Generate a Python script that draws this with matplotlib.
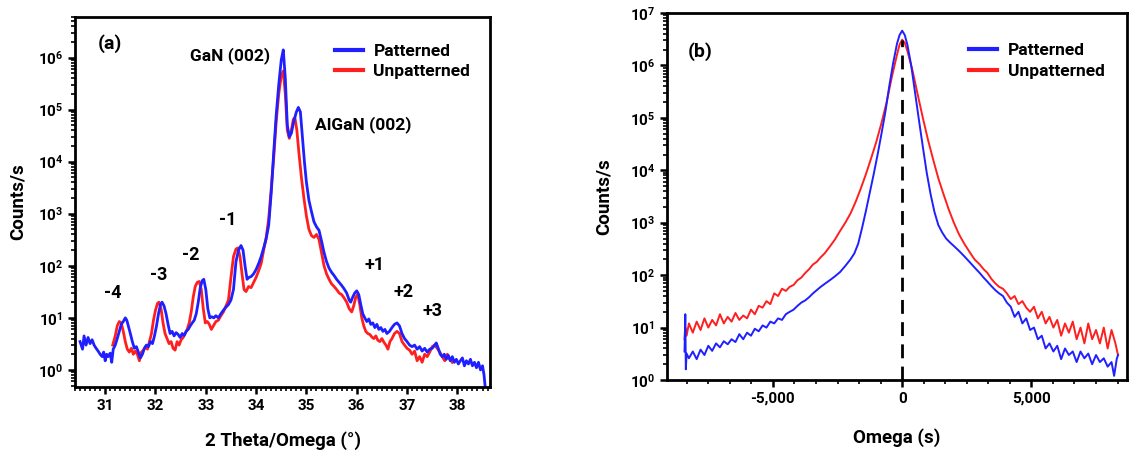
import numpy as np
import matplotlib
matplotlib.use('Agg')
import matplotlib.pyplot as plt
from matplotlib.ticker import FixedLocator, FuncFormatter, LogLocator, MultipleLocator, NullFormatter

plt.rcParams['font.family'] = ['Roboto', 'DejaVu Sans']
plt.rcParams['font.weight'] = 'bold'
plt.rcParams['mathtext.fontset'] = 'custom'
plt.rcParams['mathtext.rm'] = 'Roboto:bold'
plt.rcParams['mathtext.bf'] = 'Roboto:bold'

# ── (a) 2Theta/Omega scan ────────────────────────────────────────────────
a_pat_x = [30.50, 30.55, 30.58, 30.62, 30.66, 30.70, 30.74, 30.78, 30.82, 30.86,
           30.90, 30.94, 30.97, 31.00, 31.03, 31.06, 31.10, 31.13, 31.16, 31.20,
           31.24, 31.28, 31.32, 31.36, 31.40, 31.43, 31.46, 31.50, 31.54, 31.58,
           31.62, 31.66, 31.70, 31.74, 31.78, 31.82, 31.86, 31.90, 31.94, 31.98,
           32.02, 32.06, 32.10, 32.13, 32.17, 32.21, 32.25, 32.29, 32.33, 32.37,
           32.41, 32.45, 32.49, 32.53, 32.57, 32.61, 32.65, 32.69, 32.73, 32.77,
           32.81, 32.85, 32.89, 32.93, 32.96, 33.00, 33.04, 33.08, 33.12, 33.16,
           33.20, 33.25, 33.30, 33.35, 33.40, 33.45, 33.50, 33.55, 33.60, 33.65,
           33.70, 33.74, 33.78, 33.82, 33.86, 33.90, 33.95, 34.00, 34.05, 34.10,
           34.15, 34.20, 34.25, 34.30, 34.35, 34.40, 34.45, 34.50, 34.54, 34.58,
           34.62, 34.66, 34.70, 34.75, 34.80, 34.84, 34.88, 34.92, 34.96, 35.00,
           35.05, 35.10, 35.15, 35.20, 35.25, 35.30, 35.35, 35.40, 35.45, 35.50,
           35.55, 35.60, 35.65, 35.70, 35.75, 35.80, 35.85, 35.88, 35.92, 35.96,
           36.00, 36.04, 36.08, 36.12, 36.16, 36.20, 36.24, 36.28, 36.32, 36.36,
           36.40, 36.44, 36.48, 36.52, 36.56, 36.60, 36.65, 36.70, 36.75, 36.80,
           36.85, 36.90, 36.95, 37.00, 37.05, 37.10, 37.15, 37.20, 37.25, 37.30,
           37.35, 37.40, 37.45, 37.50, 37.55, 37.58, 37.62, 37.66, 37.70, 37.74,
           37.78, 37.82, 37.86, 37.90, 37.94, 37.98, 38.02, 38.06, 38.10, 38.14,
           38.18, 38.22, 38.26, 38.30, 38.34, 38.38, 38.42, 38.46, 38.50, 38.53,
           38.56]
a_pat_y = [3.5, 2.5, 4.5, 3.0, 4.2, 3.2, 3.8, 3.0, 2.6, 2.3,
           2.0, 1.8, 2.2, 1.5, 2.0, 1.8, 2.1, 1.4, 2.5, 3.0,
           4.0, 5.5, 7.5, 8.5, 10, 9.0, 7.0, 5.0, 3.5, 2.6,
           2.8, 2.2, 1.7, 2.0, 2.6, 3.0, 2.8, 3.5, 3.2, 4.5,
           7.0, 12, 18, 20, 17, 12, 7.5, 5.0, 5.5, 4.5,
           5.2, 4.8, 4.2, 5.0, 4.6, 5.5, 6.0, 7.0, 8.0, 9.0,
           12, 20, 38, 52, 55, 35, 15, 10, 10.5, 10,
           11, 10, 12, 14, 16, 18, 22, 35, 120, 200,
           245, 200, 100, 55, 60, 62, 70, 85, 110, 150,
           220, 330, 600, 2500, 1.5e4, 8e4, 3e5, 9e5, 1.4e6, 4e5,
           5e4, 3e4, 3.5e4, 6e4, 9e4, 1.1e5, 9e4, 3e4, 1e4, 4000,
           1800, 1100, 700, 560, 480, 300, 180, 120, 90, 75,
           65, 55, 48, 42, 36, 30, 22, 20, 25, 30,
           33, 28, 18, 12, 10, 8.5, 9.5, 7.5, 8.0, 6.5,
           7.5, 6.0, 6.5, 5.5, 6.0, 5.0, 5.5, 6.5, 7.5, 8.0,
           7.0, 5.0, 4.0, 3.5, 3.0, 2.8, 3.0, 2.5, 2.8, 2.3,
           2.6, 2.2, 2.5, 2.6, 3.0, 3.3, 2.6, 2.0, 1.8, 2.0,
           1.6, 1.9, 1.5, 1.8, 1.4, 1.6, 1.3, 1.5, 1.7, 1.2,
           1.5, 1.3, 1.6, 1.2, 1.4, 1.1, 1.4, 1.0, 1.2, 0.8,
           0.4]

a_unp_x = [31.15, 31.20, 31.24, 31.28, 31.32, 31.36, 31.40, 31.44, 31.48, 31.52,
           31.56, 31.60, 31.64, 31.68, 31.72, 31.76, 31.80, 31.84, 31.88, 31.92,
           31.96, 32.00, 32.04, 32.07, 32.11, 32.15, 32.19, 32.23, 32.27, 32.31,
           32.35, 32.39, 32.43, 32.47, 32.51, 32.55, 32.59, 32.63, 32.67, 32.71,
           32.75, 32.79, 32.83, 32.87, 32.91, 32.95, 32.99, 33.03, 33.07, 33.11,
           33.15, 33.20, 33.25, 33.30, 33.35, 33.40, 33.45, 33.50, 33.55, 33.60,
           33.64, 33.68, 33.72, 33.76, 33.80, 33.85, 33.90, 33.95, 34.00, 34.05,
           34.10, 34.15, 34.20, 34.25, 34.30, 34.35, 34.40, 34.45, 34.50, 34.54,
           34.58, 34.62, 34.66, 34.70, 34.74, 34.77, 34.81, 34.85, 34.90, 34.95,
           35.00, 35.05, 35.10, 35.15, 35.20, 35.25, 35.30, 35.35, 35.40, 35.45,
           35.50, 35.55, 35.60, 35.65, 35.70, 35.75, 35.80, 35.85, 35.90, 35.94,
           35.98, 36.02, 36.06, 36.10, 36.14, 36.18, 36.22, 36.26, 36.30, 36.34,
           36.38, 36.42, 36.46, 36.50, 36.54, 36.58, 36.62, 36.66, 36.70, 36.75,
           36.80, 36.85, 36.90, 36.95, 37.00, 37.05, 37.10, 37.15, 37.20, 37.25,
           37.30, 37.35, 37.40, 37.45, 37.50, 37.55, 37.60, 37.65, 37.70, 37.75,
           37.80, 37.85, 37.90]
a_unp_y = [3.0, 4.5, 7.0, 8.5, 8.0, 5.5, 3.5, 2.5, 2.2, 2.6,
           2.0, 2.3, 2.0, 1.5, 2.2, 2.4, 2.8, 2.5, 3.5, 5.0,
           9.0, 14, 19, 20, 15, 8.0, 5.0, 4.0, 3.2, 3.5,
           2.6, 2.4, 3.5, 3.0, 3.8, 4.2, 5.0, 6.0, 8.0, 13,
           25, 40, 48, 50, 35, 15, 8.0, 8.5, 7.5, 6.0,
           7.0, 8.5, 9.0, 11, 13, 17, 22, 60, 150, 210,
           220, 150, 70, 35, 32, 40, 38, 48, 60, 80,
           110, 200, 350, 800, 3000, 1.2e4, 6e4, 2e5, 4.5e5, 5.5e5,
           2e5, 4e4, 2.8e4, 4e4, 6.5e4, 7e4, 4e4, 1.5e4, 5000, 2000,
           900, 500, 380, 350, 400, 320, 180, 100, 70, 55,
           45, 40, 35, 30, 28, 24, 20, 15, 13, 17,
           25, 28, 18, 10, 7.0, 5.5, 5.0, 4.8, 4.3, 4.0,
           4.5, 3.7, 3.5, 4.0, 3.4, 3.0, 2.5, 3.5, 4.0, 5.0,
           5.5, 5.0, 3.5, 3.0, 2.6, 2.4, 2.0, 2.3, 1.5, 1.8,
           1.4, 2.0, 1.8, 2.2, 2.8, 3.0, 2.6, 2.2, 1.8, 1.5,
           2.0, 1.6, 1.4]

# ── (b) Omega rocking curve ──────────────────────────────────────────────
b_pat_x = [-8420, -8390, -8370, -8340, -8250, -8100, -7950, -7800, -7650, -7500,
           -7350, -7200, -7050, -6900, -6750, -6600, -6450, -6300, -6150, -6000,
           -5850, -5700, -5550, -5400, -5250, -5100, -4950, -4800, -4650, -4500,
           -4350, -4200, -4050, -3900, -3750, -3600, -3450, -3300, -3150, -3000,
           -2800, -2600, -2400, -2200, -2000, -1850, -1700, -1550, -1400, -1250,
           -1100, -950, -800, -650, -500, -350, -200, -100, 0, 100,
           200, 350, 500, 650, 800, 950, 1100, 1250, 1400, 1550,
           1700, 1850, 2000, 2200, 2400, 2600, 2800, 3000, 3150, 3300,
           3450, 3600, 3750, 3900, 4050, 4200, 4350, 4500, 4650, 4800,
           4950, 5100, 5250, 5400, 5550, 5700, 5850, 6000, 6150, 6300,
           6450, 6600, 6750, 6900, 7050, 7200, 7350, 7500, 7650, 7800,
           7950, 8100, 8200, 8300, 8350]
b_pat_y = [3.5, 18, 1.6, 3.2, 2.6, 3.5, 2.5, 3.8, 3.0, 4.5,
           3.6, 5.0, 4.2, 5.5, 4.8, 6.0, 5.3, 7.5, 6.0, 8.0,
           7.0, 9.5, 8.5, 11, 10, 13, 12, 15, 14, 18,
           20, 22, 26, 30, 33, 38, 45, 52, 60, 68,
           80, 95, 115, 150, 200, 260, 400, 800, 1700, 3800,
           8500, 2e4, 5e4, 1.3e5, 4e5, 1.1e6, 2.6e6, 3.8e6, 4.6e6, 3.8e6,
           2.5e6, 1e6, 3e5, 9e4, 2.8e4, 9000, 3500, 1600, 900, 650,
           500, 420, 360, 290, 230, 180, 140, 110, 90, 75,
           62, 52, 45, 40, 30, 25, 16, 20, 12, 15,
           9, 10, 6, 7, 4, 5, 3.5, 4.5, 2.5, 4,
           3, 3.5, 2.2, 3.5, 2.6, 3.2, 2.0, 3.0, 2.2, 2.6,
           1.8, 2.2, 1.2, 2.5, 3.0]

b_unp_x = [-8420, -8390, -8340, -8250, -8100, -7950, -7800, -7650, -7500, -7350,
           -7200, -7050, -6900, -6750, -6600, -6450, -6300, -6150, -6000, -5850,
           -5700, -5550, -5400, -5250, -5100, -4950, -4800, -4650, -4500, -4350,
           -4200, -4050, -3900, -3750, -3600, -3450, -3300, -3150, -3000, -2800,
           -2600, -2400, -2200, -2000, -1800, -1600, -1400, -1200, -1000, -800,
           -600, -400, -200, -100, 0, 100, 200, 400, 600, 800,
           1000, 1200, 1400, 1600, 1800, 2000, 2200, 2400, 2600, 2800,
           3000, 3150, 3300, 3450, 3600, 3750, 3900, 4050, 4200, 4350,
           4500, 4650, 4800, 4950, 5100, 5250, 5400, 5550, 5700, 5850,
           6000, 6150, 6300, 6450, 6600, 6750, 6900, 7050, 7200, 7350,
           7500, 7650, 7800, 7950, 8100, 8250, 8350]
b_unp_y = [6, 10, 7, 12, 8, 13, 9, 15, 10, 14,
           11, 18, 12, 16, 13, 19, 14, 17, 15, 22,
           18, 26, 24, 32, 28, 45, 40, 55, 50, 60,
           65, 80, 90, 110, 130, 160, 180, 220, 260, 350,
           480, 700, 1000, 1500, 2500, 4500, 8500, 1.7e4, 3.5e4, 8e4,
           2e5, 6e5, 1.6e6, 2.5e6, 3.1e6, 2.7e6, 1.9e6, 8e5, 2.8e5, 1e5,
           3.8e4, 1.6e4, 7000, 3500, 1800, 1000, 600, 400, 280, 200,
           160, 130, 110, 85, 70, 60, 55, 45, 35, 40,
           28, 32, 24, 20, 25, 15, 20, 12, 16, 10,
           14, 7, 12, 8, 13, 6, 10, 5, 12, 6,
           9, 5, 10, 4, 9, 5, 3]

blue = '#1f1fff'
red = '#ff1f1f'

fig = plt.figure(figsize=(11.31, 4.53), dpi=100)
fig.patch.set_facecolor('white')
ax1 = fig.add_axes([0.0663, 0.1457, 0.367, 0.8168])
ax2 = fig.add_axes([0.5897, 0.1611, 0.4068, 0.8102])


def log_fmt(v, pos):
    e = int(round(np.log10(v)))
    return r'$\mathbf{10^{%d}}$' % e


# ── Лівий: (a) ─────────────────────────────────────────────────────────
ax1.plot(a_unp_x, a_unp_y, color=red, lw=2, label='Unpatterned')
ax1.plot(a_pat_x, a_pat_y, color=blue, lw=2, label='Patterned')
ax1.set_yscale('log')
ax1.set_xlim(30.4, 38.65)
ax1.set_ylim(0.47, 6e6)
ax1.xaxis.set_major_locator(MultipleLocator(1))
ax1.xaxis.set_minor_locator(MultipleLocator(0.1))
ax1.yaxis.set_major_locator(FixedLocator([1, 10, 100, 1e3, 1e4, 1e5, 1e6]))
ax1.yaxis.set_minor_locator(LogLocator(base=10, subs=np.arange(2, 10)))
ax1.yaxis.set_major_formatter(FuncFormatter(log_fmt))
ax1.yaxis.set_minor_formatter(NullFormatter())
ax1.set_xlabel('2 Theta/Omega (°)', fontsize=13.5, fontweight='bold', labelpad=13)
ax1.set_ylabel('Counts/s', fontsize=13.5, fontweight='bold', labelpad=8)

ax1.text(0.055, 0.915, '(a)', transform=ax1.transAxes, fontsize=14, fontweight='bold')
ax1.text(33.48, 1.1e6, 'GaN (002)', fontsize=12.5, fontweight='bold', ha='center', va='center')
ax1.text(36.12, 5.2e4, 'AlGaN (002)', fontsize=12.5, fontweight='bold', ha='center', va='center')
for lab, xx, yy in [('-4', 31.16, 30), ('-3', 32.07, 67), ('-2', 32.7, 163), ('-1', 33.44, 770),
                    ('+1', 36.36, 105), ('+2', 36.92, 32), ('+3', 37.5, 13.6)]:
    ax1.text(xx, yy, lab, fontsize=13, fontweight='bold', ha='center', va='center')

# ── Правий: (b) ────────────────────────────────────────────────────────
ax2.plot(b_unp_x, b_unp_y, color=red, lw=1.4, label='Unpatterned')
ax2.plot(b_pat_x, b_pat_y, color=blue, lw=1.4, label='Patterned')
ax2.plot([0, 0], [1, 3.1e6], color='black', lw=2, ls=(0, (5, 3)))
ax2.set_yscale('log')
ax2.set_xlim(-9100, 8700)
ax2.set_ylim(1, 1e7)
ax2.xaxis.set_major_locator(FixedLocator([-5000, 0, 5000]))
ax2.xaxis.set_minor_locator(MultipleLocator(5000 / 6))
ax2.xaxis.set_major_formatter(FuncFormatter(lambda v, p: f'{int(v):,}'))
ax2.yaxis.set_major_locator(FixedLocator([1, 10, 100, 1e3, 1e4, 1e5, 1e6, 1e7]))
ax2.yaxis.set_minor_locator(LogLocator(base=10, subs=np.arange(2, 10)))
ax2.yaxis.set_major_formatter(FuncFormatter(log_fmt))
ax2.yaxis.set_minor_formatter(NullFormatter())
ax2.set_xlabel('Omega (s)', fontsize=13.5, fontweight='bold', labelpad=16)
ax2.set_ylabel('Counts/s', fontsize=13.5, fontweight='bold', labelpad=12)
ax2.text(0.045, 0.88, '(b)', transform=ax2.transAxes, fontsize=14, fontweight='bold')

for ax in (ax1, ax2):
    for s in ax.spines.values():
        s.set_linewidth(2)
    ax.tick_params(which='major', direction='out', length=5, width=1.8, labelsize=11)
    ax.tick_params(which='minor', direction='out', length=3, width=1.2)
    for t in ax.get_xticklabels() + ax.get_yticklabels():
        t.set_fontweight('bold')
    h, l = ax.get_legend_handles_labels()
    leg = ax.legend(h[::-1], l[::-1], loc='upper right', frameon=False, fontsize=12.5,
                    handlelength=1.6, handletextpad=0.6, labelspacing=0.3,
                    bbox_to_anchor=(0.99, 0.97) if ax is ax1 else (0.985, 0.96))
    for line in leg.get_lines():
        line.set_linewidth(3)
    for t in leg.get_texts():
        t.set_fontweight('bold')

plt.savefig('out.png', dpi=100, facecolor='white')
